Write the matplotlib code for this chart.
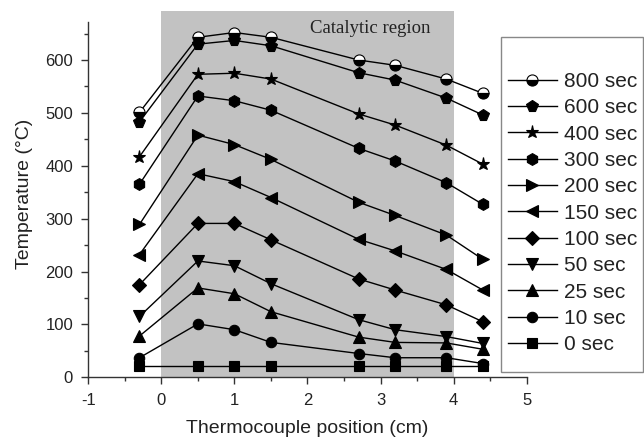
import matplotlib
matplotlib.use("Agg")
import matplotlib.pyplot as plt
from matplotlib.patches import Rectangle
from matplotlib.lines import Line2D

plt.rcParams['font.family'] = ['Liberation Sans', 'DejaVu Sans']
plt.rcParams['axes.unicode_minus'] = False

positions = [-0.3, 0.5, 1.0, 1.5, 2.7, 3.2, 3.9, 4.4]
labels = ['800 sec', '600 sec', '400 sec', '300 sec', '200 sec', '150 sec',
          '100 sec', '50 sec', '25 sec', '10 sec', '0 sec']
t800 = [501, 643, 652, 643, 600, 590, 564, 537]
t600 = [483, 630, 637, 627, 576, 562, 528, 496]
t400 = [417, 573, 575, 564, 498, 477, 439, 403]
t300 = [365, 532, 523, 505, 433, 409, 368, 327]
t200 = [289, 458, 440, 412, 331, 306, 269, 223]
t150 = [232, 385, 370, 340, 261, 239, 204, 165]
t100 = [175, 291, 291, 260, 186, 165, 137, 105]
t50 = [115, 220, 211, 177, 109, 90, 77, 64]
t25 = [78, 169, 158, 124, 76, 66, 65, 53]
t10 = [37, 101, 90, 66, 45, 37, 37, 26]
t0 = [22, 22, 22, 22, 22, 22, 22, 22]
series = [t800, t600, t400, t300, t200, t150, t100, t50, t25, t10, t0]
markers = ['o', 'p', '*', 'h', '>', '<', 'D', 'v', '^', 'o', 's']
sizes = [8, 8.5, 9.5, 8.5, 8, 8, 6.8, 8, 8, 7.5, 7]

W, H = 644, 438
fig = plt.figure(figsize=(W / 100, H / 100), dpi=100)
ax = fig.add_axes([88.3 / W, 1 - 377.3 / H, (526.7 - 88.3) / W, (377.3 - 11) / H])
ax.set_xlim(-1, 5)
ax.set_ylim(0, 692.7)

ax.axvspan(0, 4, color='#c2c2c2', zorder=0, lw=0)
ax.text(3.69, 660, 'Catalytic region', ha='right', va='center',
        family='Liberation Serif', fontsize=13.5, color='#222222')


def style(lab, m, ms):
    kw = dict(color='black', lw=1.0, marker=m, markersize=ms,
              markerfacecolor='black', markeredgecolor='black', markeredgewidth=0.8)
    if lab == '800 sec':
        kw.update(fillstyle='top', markerfacecolor='white', markerfacecoloralt='black')
    return kw


for lab, ys, m, ms in zip(labels, series, markers, sizes):
    ax.plot(positions, ys, label=lab, clip_on=False, **style(lab, m, ms))

for s in ['top', 'right']:
    ax.spines[s].set_visible(False)
ax.spines['left'].set_bounds(0, 672)
for s in ['left', 'bottom']:
    ax.spines[s].set_linewidth(1.0)
    ax.spines[s].set_color('#333333')

ax.set_xticks([-1, 0, 1, 2, 3, 4, 5])
ax.set_xticks([-0.5, 0.5, 1.5, 2.5, 3.5, 4.5], minor=True)
ax.set_yticks([0, 100, 200, 300, 400, 500, 600])
ax.set_yticks([50, 150, 250, 350, 450, 550, 650], minor=True)
ax.tick_params(which='major', direction='out', length=5, width=1.0, labelsize=12,
               color='#333333', labelcolor='#222222')
ax.tick_params(axis='x', which='major', pad=6)
ax.tick_params(axis='y', which='major', pad=6)
ax.tick_params(which='minor', direction='out', length=3, width=1.0, color='#333333')

ax.set_xlabel('Thermocouple position (cm)', fontsize=14, color='#222222', labelpad=9)
ax.set_ylabel('Temperature (°C)', fontsize=14, color='#222222', labelpad=9)

# legend box (drawn by hand, in figure pixel coordinates)
fig.patches.append(Rectangle((500.5 / W, 1 - 372 / H), (643 - 500.5) / W, (372 - 37) / H,
                             transform=fig.transFigure, fill=False, edgecolor='#888888',
                             lw=1.0, zorder=5))
row0, dy = 79.5, 26.35
for i, (lab, m, ms) in enumerate(zip(labels, markers, sizes)):
    yc = 1 - (row0 + i * dy) / H
    ln = Line2D([508 / W, 556.7 / W], [yc, yc], transform=fig.transFigure,
                **style(lab, m, ms))
    ln.set_markevery([])
    fig.lines.append(ln)
    mk = Line2D([532.3 / W], [yc], transform=fig.transFigure, **style(lab, m, ms))
    fig.lines.append(mk)
    fig.text(563.5 / W, yc, lab, ha='left', va='center_baseline', fontsize=15,
             color='#222222')

fig.savefig('out.png', dpi=100)
